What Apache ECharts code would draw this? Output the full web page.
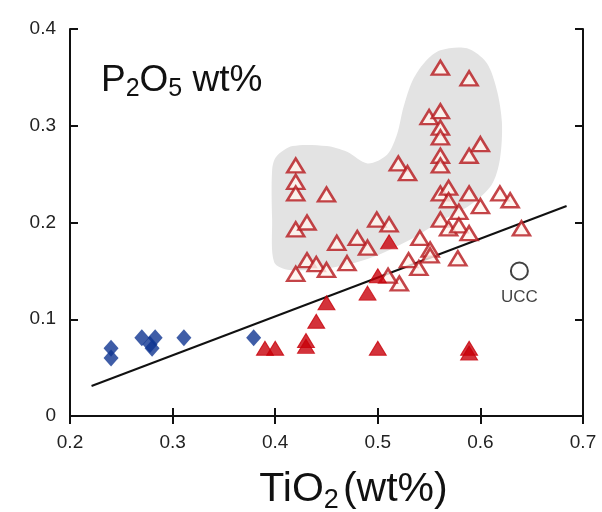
<!DOCTYPE html>
<html>
<head>
<meta charset="utf-8">
<style>
html, body { margin: 0; padding: 0; background: #fff; }
#main { width: 602px; height: 512px; }
</style>
<script src="https://cdn.jsdelivr.net/npm/echarts@6/dist/echarts.min.js"></script>
</head>
<body>
<div id="main"></div>
<script>
// TiO2 vs P2O5 (wt%)
var diamonds = [[0.24, 0.070], [0.24, 0.060], [0.27, 0.081], [0.283, 0.081], [0.28, 0.070],
	[0.278, 0.074], [0.311, 0.081], [0.379, 0.081]];

var filledTri = [[0.39, 0.070], [0.40, 0.070], [0.43, 0.078], [0.43, 0.072], [0.44, 0.098],
	[0.45, 0.117], [0.49, 0.127], [0.50, 0.145], [0.511, 0.180], [0.50, 0.070],
	[0.589, 0.070], [0.589, 0.065]];

var openTri = [[0.42, 0.259], [0.42, 0.242], [0.42, 0.230], [0.45, 0.229], [0.42, 0.193],
	[0.431, 0.200], [0.52, 0.261], [0.529, 0.251], [0.561, 0.360], [0.589, 0.349],
	[0.55, 0.309], [0.561, 0.315], [0.561, 0.298], [0.561, 0.288], [0.60, 0.281],
	[0.589, 0.269], [0.561, 0.269], [0.561, 0.259], [0.561, 0.230], [0.569, 0.236],
	[0.569, 0.223], [0.589, 0.230], [0.60, 0.217], [0.619, 0.230], [0.629, 0.223],
	[0.579, 0.211], [0.561, 0.203], [0.569, 0.194], [0.579, 0.197], [0.589, 0.189],
	[0.64, 0.194], [0.541, 0.184], [0.499, 0.203], [0.511, 0.198], [0.46, 0.179],
	[0.48, 0.184], [0.49, 0.174], [0.551, 0.172], [0.53, 0.161], [0.54, 0.153],
	[0.431, 0.161], [0.44, 0.157], [0.45, 0.151], [0.47, 0.158], [0.42, 0.147],
	[0.521, 0.137], [0.51, 0.145], [0.578, 0.163], [0.551, 0.166]];

// grey field behind the open triangles
var fieldOutline = [[0.397, 0.254], [0.401, 0.268], [0.417, 0.279], [0.45, 0.279], [0.47, 0.273],
	[0.49, 0.261], [0.509, 0.270], [0.519, 0.292], [0.525, 0.319], [0.534, 0.347],
	[0.546, 0.366], [0.561, 0.378], [0.587, 0.380], [0.606, 0.365], [0.616, 0.337],
	[0.621, 0.303], [0.619, 0.265], [0.611, 0.239], [0.59, 0.218], [0.561, 0.201],
	[0.531, 0.182], [0.492, 0.163], [0.453, 0.153], [0.414, 0.151], [0.399, 0.159],
	[0.397, 0.203]];

var trendLine = [[0.221, 0.031], [0.684, 0.217]];
var ucc = [[0.638, 0.150]];

var chart = echarts.init(document.getElementById('main'));
var font = 'Liberation Sans, Arial, sans-serif';

var axisBase = {
	type: 'value',
	min: 0, max: 0.4, interval: 0.1,
	splitLine: { show: false },
	axisLine: { lineStyle: { color: '#111', width: 2 } },
	axisTick: { inside: true, length: 8, lineStyle: { color: '#111', width: 2 } }
};

var option = {
	animation: false,
	backgroundColor: '#fff',
	grid: { left: 70, right: 19, top: 29, bottom: 96, outerBoundsMode: 'none' },
	title: {
		text: '{a|P}{s|2}{a|O}{s|5}{a| wt%}',
		left: 96, top: 54,
		textStyle: {
			fontWeight: 'normal',
			rich: {
				a: { fontFamily: font, fontSize: 37, fontWeight: 'normal', color: '#111', verticalAlign: 'bottom', lineHeight: 40 },
				s: { fontFamily: font, fontSize: 25, fontWeight: 'normal', color: '#111', verticalAlign: 'bottom', lineHeight: 28, padding: [0, 0, -3, 0] }
			}
		}
	},
	xAxis: [
		Object.assign({}, axisBase, {
			min: 0.2, max: 0.7, interval: 0.1,
			position: 'bottom',
			axisLabel: { fontFamily: font, fontSize: 19, color: '#222', margin: 17,
				formatter: function (v) { return v.toFixed(1); } },
			name: '{a|TiO}{s|2}{b|(wt%)}',
			nameLocation: 'middle', nameGap: 50,
			nameTextStyle: {
				padding: [0, 0, 0, 54],
				rich: {
					a: { fontFamily: font, fontSize: 41, color: '#111', verticalAlign: 'bottom', lineHeight: 44 },
					s: { fontFamily: font, fontSize: 27, color: '#111', verticalAlign: 'bottom', lineHeight: 30, padding: [0, 4, -4, 0] },
					b: { fontFamily: font, fontSize: 41, color: '#111', verticalAlign: 'bottom', lineHeight: 44 }
				}
			}
		}),
		Object.assign({}, axisBase, {
			min: 0.2, max: 0.7, interval: 0.1,
			position: 'top',
			axisLabel: { show: false }
		})
	],
	yAxis: [
		Object.assign({}, axisBase, {
			position: 'left',
			axisLabel: { fontFamily: font, fontSize: 19, color: '#222', margin: 14,
				formatter: function (v) { return v === 0 ? '0' : v.toFixed(1); } }
		}),
		Object.assign({}, axisBase, {
			position: 'right',
			axisLabel: { show: false }
		})
	],
	series: [
		{
			type: 'custom',
			z: 1,
			silent: true,
			renderItem: function (params, api) {
				if (params.dataIndex > 0) return;
				var pts = fieldOutline.map(function (p) { return api.coord(p); });
				return {
					type: 'polygon',
					shape: { points: pts, smooth: 0.3 },
					style: { fill: '#e3e3e3', stroke: null }
				};
			},
			data: fieldOutline
		},
		{
			type: 'line',
			z: 2,
			data: trendLine,
			symbol: 'none',
			lineStyle: { color: '#111', width: 2 }
		},
		{
			type: 'scatter',
			z: 3,
			data: openTri,
			symbol: 'triangle',
			symbolSize: [17, 14],
			itemStyle: { color: '#fff4ee', borderColor: '#b5161b', borderWidth: 2.5 }
		},
		{
			type: 'scatter',
			z: 4,
			data: filledTri,
			symbol: 'triangle',
			symbolSize: [17, 14],
			itemStyle: { color: '#c8000a', borderColor: '#c8000a', borderWidth: 1 }
		},
		{
			type: 'scatter',
			z: 4,
			data: diamonds,
			symbol: 'diamond',
			symbolSize: [15, 17],
			itemStyle: { color: '#0f3591' }
		},
		{
			type: 'scatter',
			z: 4,
			data: ucc,
			symbol: 'circle',
			symbolSize: 17,
			itemStyle: { color: '#fff', borderColor: '#111', borderWidth: 2 },
			label: {
				show: true, position: 'bottom', distance: 8,
				formatter: 'UCC',
				fontFamily: font, fontSize: 17, color: '#111'
			}
		}
	]
};

chart.setOption(option);
</script>
</body>
</html>
